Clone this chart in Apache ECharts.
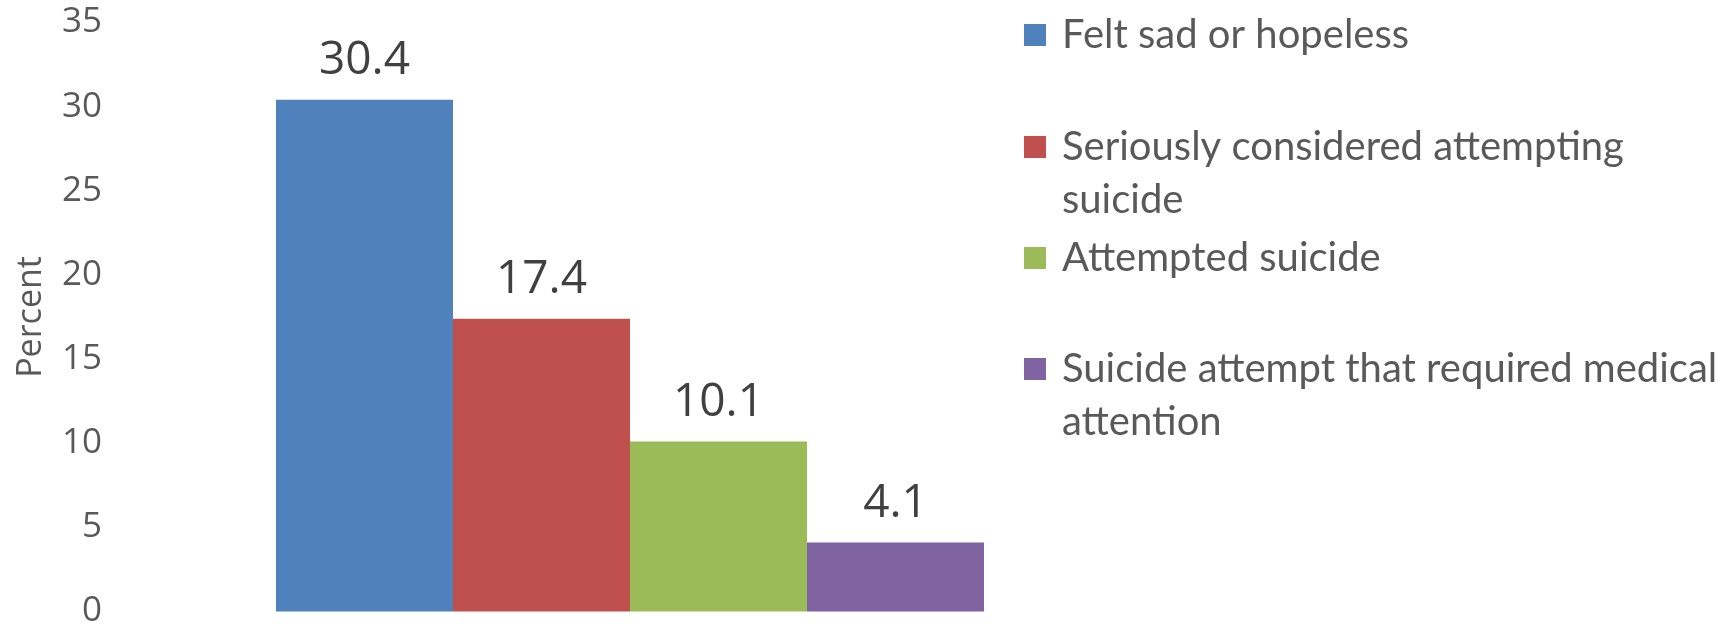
<!DOCTYPE html>
<html>
<head>
<meta charset="utf-8">
<title>Percent</title>
<script src="https://cdn.jsdelivr.net/npm/echarts@6/dist/echarts.min.js"></script>
<style>
  html, body { margin: 0; padding: 0; background: #fff; }
  #main { width: 1732px; height: 629px; }
</style>
</head>
<body>
<div id="main"></div>
<script>
// data
var categories = ['']
var seriesNames = [
  'Felt sad or hopeless',
  'Seriously considered attempting suicide',
  'Attempted suicide',
  'Suicide attempt that required medical attention'
]
var seriesValues = [30.4, 17.4, 10.1, 4.1]
var yMin = 0
var yMax = 35
var yStep = 5

// excel-ish palette
var colors = ['#4F81BD', '#C0504D', '#9BBB59', '#8064A2']

// legend text lines (wrapped like the original)
var legendLines = {
  'Felt sad or hopeless': ['Felt sad or hopeless'],
  'Seriously considered attempting suicide': ['Seriously considered attempting', 'suicide'],
  'Attempted suicide': ['Attempted suicide'],
  'Suicide attempt that required medical attention': ['Suicide attempt that required medical', 'attention']
}

var lineH = 53
var legendCenters = [35, 147, 258, 369] // icon centre of each entry
var legendFont = { fontFamily: 'Lato, "Liberation Sans", sans-serif', fontSize: 40, color: '#595959', lineHeight: lineH }

var chart = echarts.init(document.getElementById('main'))

var legends = seriesNames.map(function (name, i) {
  var twoLines = legendLines[name].length > 1
  // two-line entries get an empty spacer line on top so the square sits on line 1
  var top = twoLines ? legendCenters[i] - lineH * 1.5 : legendCenters[i] - lineH / 2
  return {
    left: 1024,
    top: top,
    padding: 0,
    orient: 'vertical',
    selectedMode: false,
    itemWidth: 22,
    itemHeight: 22,
    icon: 'rect',
    formatter: function (n) {
      var ls = legendLines[n].map(function (l) { return '{t|' + l + '}' })
      if (ls.length > 1) ls.unshift('{pad| }')
      return ls.join('\n')
    },
    textStyle: {
      fontFamily: legendFont.fontFamily,
      fontSize: legendFont.fontSize,
      color: legendFont.color,
      lineHeight: lineH,
      padding: [0, 0, 0, 11],
      rich: {
        t: legendFont,
        pad: { fontSize: 10, lineHeight: lineH }
      }
    },
    data: [name]
  }
})

var series = seriesNames.map(function (name, i) {
  return {
    name: name,
    type: 'bar',
    barGap: 0,
    barCategoryGap: 0,
    itemStyle: { color: colors[i] },
    label: {
      show: true,
      position: 'top',
      distance: 16,
      fontFamily: '"Open Sans", sans-serif',
      fontSize: 46,
      color: '#404040',
      formatter: function (p) { return p.value.toFixed(1) }
    },
    data: [seriesValues[i]]
  }
})

chart.setOption({
  animation: false,
  backgroundColor: '#ffffff',
  grid: { left: 276, right: 748, top: 22.4, bottom: 15.5, containLabel: false },
  legend: legends,
  xAxis: {
    type: 'category',
    data: categories,
    axisLine: { show: false },
    axisTick: { show: false },
    axisLabel: { show: false }
  },
  yAxis: {
    type: 'value',
    min: yMin,
    max: yMax,
    interval: yStep,
    name: 'Percent',
    nameLocation: 'middle',
    nameGap: 228,
    nameTextStyle: {
      fontFamily: '"Open Sans", sans-serif',
      fontSize: 34,
      color: '#595959'
    },
    axisLine: { show: false },
    axisTick: { show: false },
    splitLine: { show: false },
    axisLabel: {
      margin: 174,
      fontFamily: '"Open Sans", sans-serif',
      fontSize: 35,
      color: '#595959'
    }
  },
  series: series
})
</script>
</body>
</html>
